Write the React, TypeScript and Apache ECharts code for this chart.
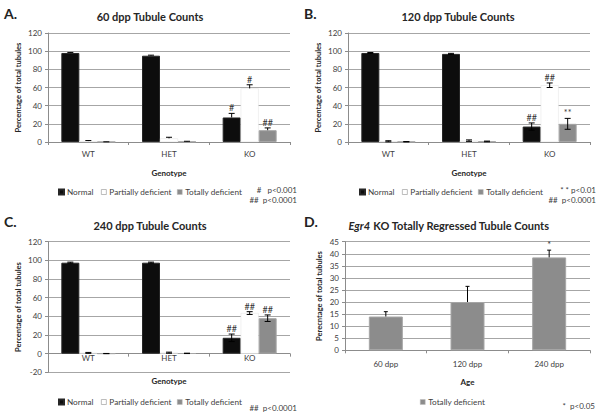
import React, { useEffect, useRef } from 'react';
import * as echarts from 'echarts';

const FONT = 'Lato, "Open Sans", sans-serif';

const genotypes = ['WT', 'HET', 'KO'];
const ages = ['60 dpp', '120 dpp', '240 dpp'];
const seriesNames = ['Normal', 'Partially deficient', 'Totally deficient'];

// Panel A: 60 dpp
const normal60 = [98, 95, 27];
const normal60Err = [0.6, 0.6, 4.5];
const partial60 = [1, 4, 59];
const partial60Err = [0.6, 1.2, 4];
const total60 = [0.1, 0.4, 13];
const total60Err = [0.1, 0.4, 2.5];
const sigNormal60 = ['', '', '#'];
const sigPartial60 = ['', '', '#'];
const sigTotal60 = ['', '', '##'];

// Panel B: 120 dpp
const normal120 = [98, 97, 17];
const normal120Err = [0.5, 0.6, 4];
const partial120 = [0.8, 1.5, 62.5];
const partial120Err = [0.6, 0.8, 2.5];
const total120 = [0.3, 0.6, 20];
const total120Err = [0.2, 0.4, 6];
const sigNormal120 = ['', '', '##'];
const sigPartial120 = ['', '', '##'];
const sigTotal120 = ['', '', '**'];

// Panel C: 240 dpp
const normal240 = [97.5, 97.5, 17];
const normal240Err = [0.6, 0.6, 4];
const partial240 = [0.8, 1, 43.5];
const partial240Err = [0.5, 0.6, 1.5];
const total240 = [0.1, 0.3, 38];
const total240Err = [0.1, 0.2, 3.5];
const sigNormal240 = ['', '', '##'];
const sigPartial240 = ['', '', '##'];
const sigTotal240 = ['', '', '##'];

// Panel D: KO totally regressed
const totalKO = [14, 20, 38.5];
const totalKOErr = [2, 6.5, 3];
const sigKO = ['', '', '*'];

// Y-axis ranges
const yA = { min: 0, max: 120, interval: 20 };
const yC = { min: -20, max: 120, interval: 20 };
const yD = { min: 0, max: 45, interval: 5 };

const NORMAL_COLOR = '#0d0d0d';
const PARTIAL_COLOR = '#ffffff';
const TOTAL_COLOR = '#8c8c8c';

function errorSeries(
  gi: number,
  values: number[],
  errs: number[],
  sigs: string[],
  offset: number,
  both: boolean,
  cap: number
) {
  return {
    type: 'custom',
    xAxisIndex: gi,
    yAxisIndex: gi,
    silent: true,
    z: 10,
    data: values.map((v, i) => [i, v]),
    encode: { x: 0, y: 1 },
    renderItem: (params: any, api: any) => {
      const idx = params.dataIndex;
      const v = values[idx];
      const e = errs[idx];
      const top = api.coord([idx, v + e]);
      const bot = api.coord([idx, both ? v - e : v]);
      const x = top[0] + offset;
      const st = { stroke: '#000', lineWidth: 1 };
      const children: any[] = [
        { type: 'line', shape: { x1: x, y1: top[1], x2: x, y2: bot[1] }, style: st },
        { type: 'line', shape: { x1: x - cap / 2, y1: top[1], x2: x + cap / 2, y2: top[1] }, style: st },
      ];
      if (both) {
        children.push({ type: 'line', shape: { x1: x - cap / 2, y1: bot[1], x2: x + cap / 2, y2: bot[1] }, style: st });
      }
      const s = sigs[idx];
      if (s) {
        children.push({
          type: 'text',
          x,
          y: top[1] - 1,
          style: {
            text: s,
            fill: '#333',
            font: '9px ' + FONT,
            textAlign: 'center',
            textVerticalAlign: 'bottom',
          },
        });
      }
      return { type: 'group', children };
    },
  };
}

function bar(gi: number, name: string, data: number[], color: string, width: number) {
  const isPartial = color === PARTIAL_COLOR;
  return {
    type: 'bar',
    name,
    xAxisIndex: gi,
    yAxisIndex: gi,
    data,
    barWidth: width,
    barGap: '0%',
    itemStyle: {
      color,
      borderColor: isPartial ? '#e2e2e2' : color === TOTAL_COLOR ? '#a6a6a6' : '#262626',
      borderWidth: isPartial ? 0.5 : 1,
    },
  };
}

function catAxis(gi: number, data: string[], name: string, nameGap: number, margin: number) {
  return {
    type: 'category',
    gridIndex: gi,
    data,
    name,
    nameLocation: 'middle',
    nameGap,
    nameTextStyle: { fontWeight: 'bold', fontSize: 8, color: '#262626', fontFamily: FONT },
    axisLine: { onZero: true, lineStyle: { color: '#8c8c8c' } },
    axisTick: { show: true, length: 3, lineStyle: { color: '#8c8c8c' } },
    axisLabel: { fontSize: 8, color: '#404040', fontFamily: FONT, margin },
  };
}

function valAxis(gi: number, r: { min: number; max: number; interval: number }, name: string, nameGap: number) {
  return {
    type: 'value',
    gridIndex: gi,
    min: r.min,
    max: r.max,
    interval: r.interval,
    name,
    nameLocation: 'middle',
    nameGap,
    nameTextStyle: { fontWeight: 'bold', fontSize: 7.5, color: '#262626', fontFamily: FONT },
    axisLine: { show: true, lineStyle: { color: '#8c8c8c' } },
    axisTick: { show: true, length: 3, lineStyle: { color: '#8c8c8c' } },
    splitLine: { show: true, lineStyle: { color: '#a6a6a6', width: 1 } },
    axisLabel: { fontSize: 8, color: '#404040', fontFamily: FONT, margin: 6 },
  };
}

function legendItem(left: number, top: number, n: string) {
  return {
    left,
    top,
    padding: 0,
    orient: 'horizontal',
    itemWidth: 5,
    itemHeight: 5,
    selectedMode: false,
    textStyle: { fontSize: 8.2, color: '#404040', fontFamily: FONT, padding: [0, 0, 0, -2] },
    data: [
      {
        name: n,
        icon: 'rect',
        itemStyle:
          n === 'Normal'
            ? { color: NORMAL_COLOR }
            : n === 'Partially deficient'
            ? { color: '#fff', borderColor: '#a0a0a0', borderWidth: 0.7 }
            : { color: TOTAL_COLOR, borderColor: '#bbb', borderWidth: 0.5 },
      },
    ],
  };
}

function txt(x: number, y: number, text: string, size: number, opts: any = {}) {
  return {
    type: 'text',
    x,
    y,
    silent: true,
    style: {
      text,
      fill: opts.fill || '#333',
      font: `${opts.bold ? 'bold ' : ''}${size}px ${FONT}`,
      textAlign: opts.align || 'left',
      textVerticalAlign: 'middle',
      ...(opts.rich ? { rich: opts.rich } : {}),
    },
  };
}

export default function App() {
  const ref = useRef<HTMLDivElement>(null);
  useEffect(() => {
    if (!ref.current) return;
    const chart = echarts.init(ref.current, undefined, { renderer: 'svg' });
    const BW = 18;
    const legX = [58, 101, 177];
    const option: any = {
      animation: false,
      backgroundColor: '#fff',
      textStyle: { fontFamily: FONT },
      grid: [
        { left: 48, top: 33, width: 242, height: 109 },
        { left: 348, top: 33, width: 242, height: 109 },
        { left: 48, top: 241.7, width: 242, height: 130.6 },
        { left: 345, top: 241.7, width: 245, height: 108.6 },
      ],
      xAxis: [
        catAxis(0, genotypes, 'Genotype', 27, 8),
        catAxis(1, genotypes, 'Genotype', 27, 8),
        catAxis(2, genotypes, '', 19, -18),
        catAxis(3, ages, 'Age', 28, 10),
      ],
      yAxis: [
        valAxis(0, yA, 'Percentage of total tubules', 26),
        valAxis(1, yA, 'Percentage of total tubules', 26),
        valAxis(2, yC, 'Percentage of total tubules', 26),
        valAxis(3, yD, 'Perecntage of total tubules', 22),
      ],
      legend: [
        ...seriesNames.map((n, i) => legendItem(legX[i], 188, n)),
        ...seriesNames.map((n, i) => legendItem(legX[i] + 301, 188, n)),
        ...seriesNames.map((n, i) => legendItem(legX[i], 398, n)),
        legendItem(420, 398, 'Totally deficient'),
      ],
      series: [
        bar(0, 'Normal', normal60, NORMAL_COLOR, BW),
        bar(0, 'Partially deficient', partial60, PARTIAL_COLOR, BW),
        bar(0, 'Totally deficient', total60, TOTAL_COLOR, BW),
        errorSeries(0, normal60, normal60Err, sigNormal60, -BW, false, 6),
        errorSeries(0, partial60, partial60Err, sigPartial60, 0, false, 6),
        errorSeries(0, total60, total60Err, sigTotal60, BW, false, 6),

        bar(1, 'Normal', normal120, NORMAL_COLOR, BW),
        bar(1, 'Partially deficient', partial120, PARTIAL_COLOR, BW),
        bar(1, 'Totally deficient', total120, TOTAL_COLOR, BW),
        errorSeries(1, normal120, normal120Err, sigNormal120, -BW, true, 6),
        errorSeries(1, partial120, partial120Err, sigPartial120, 0, true, 6),
        errorSeries(1, total120, total120Err, sigTotal120, BW, true, 6),

        bar(2, 'Normal', normal240, NORMAL_COLOR, BW),
        bar(2, 'Partially deficient', partial240, PARTIAL_COLOR, BW),
        bar(2, 'Totally deficient', total240, TOTAL_COLOR, BW),
        errorSeries(2, normal240, normal240Err, sigNormal240, -BW, true, 6),
        errorSeries(2, partial240, partial240Err, sigPartial240, 0, true, 6),
        errorSeries(2, total240, total240Err, sigTotal240, BW, true, 6),

        bar(3, 'Totally deficient', totalKO, TOTAL_COLOR, 34),
        errorSeries(3, totalKO, totalKOErr, sigKO, 0, false, 4),
      ],
      graphic: [
        txt(4, 13, 'A.', 14, { bold: true, fill: '#222' }),
        txt(304, 13, 'B.', 14, { bold: true, fill: '#222' }),
        txt(4, 221, 'C.', 14, { bold: true, fill: '#222' }),
        txt(304, 221, 'D.', 14, { bold: true, fill: '#222' }),
        txt(150, 16, '60 dpp Tubule Counts', 11, { bold: true, align: 'center', fill: '#262626' }),
        txt(458, 16, '120 dpp Tubule Counts', 11, { bold: true, align: 'center', fill: '#262626' }),
        txt(150, 225, '240 dpp Tubule Counts', 11, { bold: true, align: 'center', fill: '#262626' }),
        txt(449, 225, '{i|Egr4} KO Totally Regressed Tubule Counts', 11, {
          bold: true,
          align: 'center',
          fill: '#262626',
          rich: { i: { fontStyle: 'italic', fontWeight: 'bold', fontSize: 11, fontFamily: FONT, fill: '#262626' } },
        }),
        txt(169, 381, 'Genotype', 8, { bold: true, align: 'center', fill: '#262626' }),
        txt(297, 190, '#   p<0.001', 8, { align: 'right', fill: '#404040' }),
        txt(297, 199.5, '##  p<0.0001', 8, { align: 'right', fill: '#404040' }),
        txt(596, 190, '* * p<0.01', 8, { align: 'right', fill: '#404040' }),
        txt(596, 199.5, '##  p<0.0001', 8, { align: 'right', fill: '#404040' }),
        txt(297, 408, '##  p<0.0001', 8, { align: 'right', fill: '#404040' }),
        txt(595, 406, '*  p<0.05', 8, { align: 'right', fill: '#404040' }),
      ],
    };
    chart.setOption(option);
    return () => chart.dispose();
  }, []);
  return (
    <div
      ref={ref}
      style={{ position: 'fixed', left: 0, top: 0, width: 601, height: 417, background: '#fff' }}
    />
  );
}
